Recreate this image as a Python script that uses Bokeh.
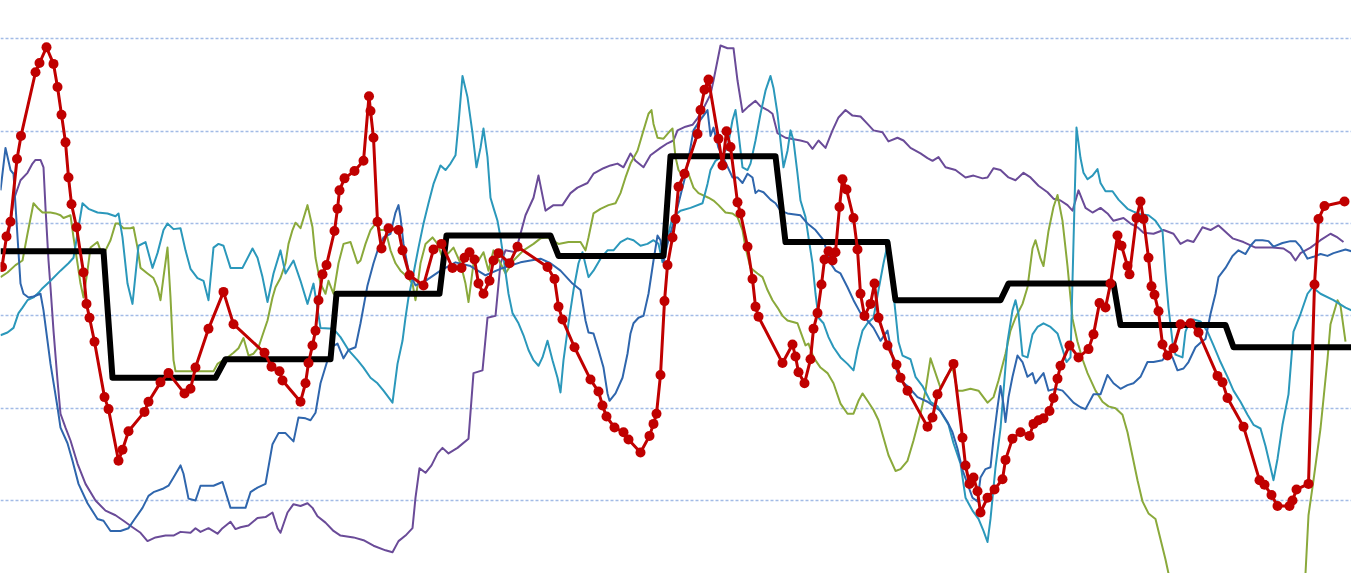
from bokeh.plotting import figure
from bokeh.models import Range1d, FixedTicker, Grid
from bokeh.embed import file_html
from bokeh.resources import INLINE

# ---- data (x = trading-day position, y = value) ----
grid_values = [0, 10, 20, 30, 40, 50]

month_start = [0, 22.4, 45, 67.2, 89.2, 111.6, 134, 157, 179, 201.6, 224, 246.6]
month_end = [20.6, 43, 66, 87.8, 110, 132.6, 155, 177.4, 200, 222.6, 245, 270.2]
month_avg = [27.0, 13.3, 15.3, 22.4, 28.7, 26.5, 37.3, 28.0, 21.7, 23.5, 19.0, 16.6]

red_points = [(0.3,25.3),(1.2,28.6),(2.0,30.2),(3.3,37.0),(4.1,39.5),(7.0,46.4),(7.8,47.4),(9.2,49.1),(10.6,47.3),(11.4,44.8),(12.2,41.8),(13.0,38.8),(13.6,35.0),(14.2,32.1),(15.2,29.6),(16.6,24.7),(17.2,21.3),(17.8,19.8),(18.8,17.2),(20.8,11.2),(21.6,9.9),(23.6,4.3),(24.4,5.5),(25.6,7.5),(28.8,9.6),(29.6,10.7),(32.0,12.8),(33.6,13.8),(36.8,11.6),(38.0,12.1),(39.0,14.4),(41.6,18.6),(44.6,22.6),(46.6,19.1),(52.8,16.0),(54.2,14.5),(55.8,14.0),(56.4,13.0),(60.0,10.7),(61.0,12.7),(61.6,14.9),(62.4,16.8),(63.0,18.4),(63.6,21.7),(64.4,24.5),(65.2,25.5),(66.8,29.2),(67.4,31.6),(67.8,33.6),(68.8,34.9),(70.8,35.7),(72.6,36.8),(73.7,43.8),(74.0,42.2),(74.6,39.3),(75.4,30.2),(76.2,27.3),(77.6,29.5),(79.6,29.3),(80.4,27.1),(81.8,24.4),(84.6,23.3),(86.6,27.2),(88.2,27.8),(90.4,25.2),(92.2,25.2),(92.8,26.3),(93.8,26.9),(94.8,26.1),(95.6,23.5),(96.6,22.4),(97.8,23.8),(98.6,26.0),(99.6,26.8),(101.8,25.7),(103.4,27.5),(109.4,25.3),(110.8,24.0),(111.6,21.0),(112.4,19.6),(114.8,16.6),(118.0,13.1),(119.6,11.8),(120.4,10.3),(121.2,9.1),(122.8,7.9),(124.6,7.4),(125.6,6.6),(128.0,5.2),(129.8,7.0),(130.6,8.3),(131.2,9.4),(132.0,13.6),(132.8,21.6),(133.4,25.5),(134.4,28.5),(135.0,30.5),(135.6,34.0),(136.8,35.4),(139.4,39.7),(140.0,42.3),(140.8,44.5),(141.6,45.6),(143.6,39.2),(144.4,36.3),(145.2,40.0),(146.0,38.3),(147.4,32.3),(148.0,31.1),(149.4,27.5),(150.4,24.0),(151.0,21.0),(151.6,19.9),(156.4,14.9),(158.4,16.9),(159.0,15.6),(159.6,13.9),(160.8,12.7),(162.0,15.3),(162.6,18.6),(163.4,20.3),(164.2,23.4),(164.8,26.1),(165.6,27.0),(166.4,26.0),(167.0,26.9),(167.8,31.8),(168.4,34.8),(169.2,33.7),(170.6,30.6),(171.4,27.2),(172.0,22.4),(172.8,20.0),(174.0,21.3),(174.8,23.5),(175.6,19.8),(177.4,16.8),(179.2,14.7),(180.0,13.3),(181.4,11.9),(185.4,8.0),(186.4,9.0),(187.4,11.5),(190.6,14.8),(192.4,6.8),(193.0,3.8),(193.8,1.8),(194.6,2.5),(195.4,1.0),(196.0,-1.3),(197.4,0.3),(198.8,1.2),(200.4,2.3),(201.0,4.4),(202.4,6.7),(204.0,7.4),(205.8,7.0),(206.6,8.3),(207.6,8.7),(208.6,8.9),(209.8,9.7),(210.6,11.1),(211.4,13.2),(212.0,14.6),(213.8,16.8),(215.6,15.5),(217.6,16.4),(218.6,18.0),(219.8,21.4),(221.0,20.9),(222.0,23.5),(223.4,28.7),(224.2,27.6),(225.4,25.4),(225.8,24.5),(227.2,30.6),(228.0,32.4),(228.6,30.5),(229.6,26.3),(230.2,23.2),(230.8,22.3),(231.6,20.5),(232.4,16.9),(233.4,15.7),(234.6,16.5),(236.0,19.1),(238.0,19.2),(239.6,18.2),(243.4,13.5),(244.4,12.8),(245.4,11.1),(248.6,8.0),(251.8,2.2),(252.8,1.7),(254.2,0.6),(255.4,-0.6),(257.8,-0.6),(258.4,0.0),(259.2,1.2),(261.6,1.8),(262.8,23.4),(263.6,30.5),(264.8,31.9),(268.8,32.4)]

blue_points = [(0,33.6),(1,38.2),(2,35.8),(2.6,35.4),(4,23.5),(4.6,22.4),(5.6,22.0),(6.6,22.1),(8,22.4),(8.6,20.6),(10,14.8),(11.4,10.1),(12,7.9),(13.4,6.2),(14.4,4.3),(15.6,1.8),(17.4,-0.3),(19.4,-2.0),(20.6,-2.2),(22,-3.3),(24,-3.3),(25.6,-3.0),(26.6,-2.2),(28.4,-0.8),(29.6,0.5),(30.6,0.9),(32.6,1.3),(33.6,1.6),(34.6,2.5),(36,3.8),(36.6,2.9),(37.6,0.2),(39,0),(40,1.6),(42.6,1.6),(44.4,2.0),(46,-0.8),(49,-0.8),(50,0.9),(51.4,1.4),(53,1.8),(54.4,6.1),(55.6,7.3),(57,7.3),(58.6,6.4),(59.6,9.0),(61,8.9),(62,8.7),(63,9.5),(64,12.7),(65.4,15.2),(66.4,16.7),(67.4,17.0),(68.6,15.4),(69.6,16.3),(71,16.6),(72,19.2),(73.4,23.3),(74.6,25.7),(75.6,27.4),(76.6,28.5),(78,28.9),(79,31.2),(79.6,32.0),(80,30.7),(80.6,27.8),(81.6,24.9),(83,23.3),(85,23.8),(88,24.9),(91,25.8),(94,25.4),(97,24.4),(100,25.1),(104,25.8),(108,26.2),(110,25.7),(112,24.9),(114.4,23.5),(116,22.8),(117,19.5),(117.6,18.2),(118.6,18.1),(119.6,16.3),(120.6,14.4),(121.4,11.6),(121.8,10.8),(123,11.6),(124.4,13.3),(125.4,15.9),(126,18.1),(126.6,19.2),(127.6,19.8),(128.6,20.0),(129.6,22.4),(130.6,26.0),(131.4,28.7),(132,28.2),(132.6,25.8),(133.4,27.8),(135,30.9),(137,35.2),(138.6,40.1),(139.4,40.8),(141.4,42.3),(142,39.5),(142.6,40.4),(143.6,38.2),(144.6,37.1),(146.4,35.0),(147.4,35.0),(148.4,34.4),(149.4,35.4),(150.4,35.0),(151,33.3),(151.6,33.6),(152.6,33.4),(154,32.6),(155,32.2),(156,31.4),(157.4,31.1),(160,30.9),(161.4,30.0),(163,29.3),(164.6,28.2),(166,25.7),(167,24.9),(168,24.6),(169.4,23.1),(170.6,21.7),(172,20.3),(173.4,19.5),(174.6,18.7),(176,17.3),(177.4,18.4),(178.6,15.0),(180,13.0),(181.4,12.4),(183.4,11.2),(185.4,10.7),(188,9.7),(189.4,8.5),(190.4,7.4),(191.4,5.6),(192.4,3.3),(193.4,1.8),(194.4,0.3),(195.4,-0.1),(196,2.5),(197,3.4),(198,3.6),(198.6,6.7),(199.4,10.1),(200,12.4),(200.6,10.4),(201,8.5),(201.6,11.2),(202.4,13.4),(203.4,15.7),(204.4,15.0),(205.4,13.4),(206.4,13.8),(207,12.7),(208,13.4),(208.6,13.8),(209.6,11.9),(211,12.1),(212.4,11.9),(213.6,11.2),(214.6,10.6),(216,10.1),(217,9.9),(218.6,11.5),(220,11.5),(221.4,13.6),(222.6,12.7),(224,12.1),(225.4,12.5),(226.6,12.7),(228,13.4),(229.4,15.0),(230.6,15.0),(232.4,15.2),(233.4,16.0),(234.4,15.5),(235.4,14.1),(236.6,14.3),(237.6,15.0),(239,16.6),(240,17.1),(241,17.5),(242,20.2),(243,22.4),(243.6,24.2),(245,25.2),(246.4,26.5),(247.6,27.1),(249,26.7),(250,27.6),(251,28.2),(252.4,28.2),(253.6,28.1),(254.6,27.5),(256.4,27.9),(258,28.1),(259,28.1),(260,27.5),(261.4,26.2),(262.6,26.4),(264,26.7),(265.4,26.5),(266.6,26.8),(269,27.2),(270.2,27.0)]

teal_points = [(0,17.9),(1.4,18.2),(2.6,18.7),(3.6,20.3),(4.4,20.9),(5.4,21.7),(6.6,22.0),(7.6,22.5),(8.4,23.0),(10,23.8),(12,24.9),(13.6,25.7),(14.6,26.3),(15.4,28.9),(16.4,32.2),(17.6,31.6),(19.4,31.2),(21.4,31.1),(23,30.8),(23.6,31.1),(24.4,28.5),(25.4,23.5),(26.4,21.3),(27.6,27.6),(29,28.0),(30.4,25.2),(31.4,26.8),(32.6,29.3),(33.4,30.0),(34.6,29.4),(36,29.5),(37,27.1),(38,25.1),(39.4,24.1),(40.6,23.8),(41.6,21.7),(42.6,27.4),(43.6,27.8),(44.6,27.6),(46,25.2),(48.4,25.2),(50.4,27.3),(51.4,26.3),(52.4,24.2),(53.4,21.5),(54.6,24.6),(56,27.1),(57,24.6),(58.6,26.0),(60,23.8),(61.4,21.3),(62.6,23.5),(64,18.7),(66.6,18.6),(68,17.7),(69.6,16.3),(71.4,15.2),(72.6,14.4),(74,13.3),(75.4,12.7),(76.6,11.9),(78.4,10.6),(79.4,14.8),(80.4,17.3),(81,19.8),(81.6,22.0),(82.6,24.6),(83.6,27.4),(84.6,30.0),(85.6,32.2),(86.6,34.3),(88,36.3),(89,35.8),(90,36.5),(91,37.4),(91.6,40.8),(92.4,46.0),(93.4,43.7),(94.4,39.8),(95.2,36.1),(96,38.2),(96.6,40.3),(97.4,37.2),(98,32.8),(98.6,31.7),(99.4,30.3),(100,28.5),(100.6,26.3),(101.6,22.4),(102.4,20.3),(103.6,19.2),(104.6,17.9),(105.6,16.3),(106.6,15.2),(107.6,14.6),(108.4,15.5),(109.4,17.3),(110.4,15.2),(111.4,13.3),(112,11.7),(112.6,15.2),(113.6,19.2),(114.6,22.8),(115.6,25.7),(116.4,26.9),(117.6,24.2),(118.6,24.9),(120,26.2),(121.4,27.1),(122.6,27.1),(124,28.0),(125.4,28.4),(126.6,28.2),(128,27.6),(129.4,27.8),(130.6,28.2),(131.6,27.8),(132.4,25.8),(133.4,28.5),(134.4,30.7),(136,31.4),(138,31.7),(140.4,32.2),(141.4,34.3),(142,35.8),(143,36.8),(144,37.2),(145.4,38.2),(146.4,41.2),(147,42.3),(147.6,39.8),(148.4,36.1),(149.4,35.8),(150,36.5),(151,39.0),(152,41.9),(153,44.4),(154,46.0),(154.6,44.7),(155.4,41.9),(156,39.0),(156.6,36.1),(157.4,37.9),(158,40.1),(158.6,39.0),(159.4,35.4),(160,32.5),(161,30.7),(161.6,28.5),(162.4,25.7),(163,22.4),(163.6,19.8),(164.6,19.2),(165.6,17.7),(166.6,16.6),(168,15.5),(169.4,14.8),(170.6,14.1),(171.4,16.3),(172.4,18.4),(173.4,19.2),(174.6,19.8),(175.6,22.8),(176.6,25.7),(177.6,28.2),(178.6,22.4),(179.6,17.2),(180.4,15.7),(182,15.3),(183,13.4),(184.4,12.4),(186,10.7),(187.4,10.2),(188.6,9.1),(189.6,8.2),(190.6,6.2),(192,4.0),(193,0.3),(194.4,-1.1),(195.6,-2.0),(196.6,-3.3),(197.4,-4.5),(198,-2.0),(199,3.6),(200,7.8),(201.4,17.2),(202.4,20.6),(203,21.7),(203.6,20.2),(204.4,15.7),(205.4,15.5),(206.4,18.0),(207.4,18.8),(208.6,19.2),(210,18.8),(211.4,18.1),(212.4,16.4),(213.2,15.0),(214,15.5),(215.2,40.4),(216,37.1),(216.6,35.5),(217.4,34.8),(218.4,35.2),(219.4,35.9),(220,34.4),(221,33.5),(222.4,33.5),(223.6,32.6),(225.4,31.6),(226.6,31.3),(228,31.0),(229.6,30.9),(231,30.3),(232.4,29.2),(233,24.7),(233.6,20.9),(234.4,17.2),(235,15.8),(236.4,15.5),(237,18.3),(237.6,19.1),(238.6,19.6),(240,19.4),(241.4,18.3),(242.6,16.8),(244,15.0),(245.4,13.4),(246.6,11.9),(248,10.7),(249.4,9.3),(250.6,8.2),(252,7.8),(253,5.9),(254,3.6),(254.6,2.2),(255.4,4.5),(256.4,8.2),(257.6,11.5),(258.6,18.3),(260,20.2),(261.4,22.4),(262.4,23.1),(264,22.4),(266.6,21.7),(269,20.9),(270.2,20.6)]

green_points = [(0,24.2),(1.4,24.7),(3,25.5),(4.4,26.0),(5.4,28.9),(6.6,32.2),(7.6,31.6),(8.4,31.2),(10,31.2),(11,31.1),(12,30.9),(12.6,30.6),(14,30.9),(14.6,28.5),(15.4,25.7),(16,23.5),(16.6,22.0),(17.4,24.9),(18,27.4),(19.4,28.0),(20,27.1),(21,27.1),(22,28.2),(23,30.0),(23.6,30.0),(24.6,29.5),(26,29.5),(26.6,29.6),(27.4,27.4),(28,25.2),(29.4,24.6),(30.6,24.1),(31.4,23.1),(32,21.7),(32.6,24.2),(33.4,27.4),(34,22.0),(34.6,15.2),(35,14.0),(42.6,14.0),(43.4,14.8),(45.4,15.5),(46.6,16.0),(47.6,16.5),(48.6,17.6),(49.6,15.7),(50.6,15.9),(51.6,16.6),(52.4,17.9),(53.4,19.5),(54.4,22.0),(55,23.1),(56,24.1),(57,25.7),(57.6,27.8),(58.4,29.3),(59,30.1),(60,29.5),(61.4,32.0),(62.4,29.6),(63,26.3),(64,23.5),(65,22.4),(65.6,23.8),(66.6,22.4),(67.6,25.7),(68.6,27.8),(70,28.0),(71.4,25.7),(72,26.0),(73,27.8),(74,29.3),(75,30.0),(76,29.3),(77,29.3),(78,27.1),(79,25.7),(80,24.9),(81.4,24.2),(82.4,23.5),(83,21.7),(84,25.7),(85,27.8),(86.4,28.5),(87.4,27.8),(88.4,26.3),(89.6,26.8),(90.6,27.4),(92,25.7),(93,23.5),(93.6,21.5),(94.6,25.7),(95.6,26.0),(96.6,26.9),(97.6,24.9),(98.6,27.1),(100,25.7),(101,24.6),(102.6,26.0),(104.6,27.1),(106.6,27.8),(108,28.4),(109.4,28.5),(111.6,27.8),(113.6,28.0),(116,28.0),(117,27.1),(117.6,28.5),(118.6,31.1),(120,31.6),(121.6,32.0),(123,32.2),(124,33.3),(125,35.0),(126,36.5),(127.4,37.9),(128.6,40.1),(129.6,41.9),(130.2,42.3),(130.6,40.8),(131.4,39.3),(132.6,39.2),(134,40.1),(134.4,40.3),(135,37.2),(135.6,35.8),(136.6,35.0),(137.6,35.4),(138.6,33.9),(139.6,33.3),(141.6,32.8),(142.6,32.5),(143.6,32.0),(145,31.2),(146.4,31.1),(147.4,30.7),(148.4,29.3),(149,27.4),(150,25.2),(151.4,24.6),(152.4,24.2),(153.4,22.8),(154.4,21.7),(155.4,20.9),(156.4,20.0),(157.4,19.5),(159.4,19.2),(160.4,17.7),(161,16.8),(161.6,17.0),(162.6,15.5),(164,14.4),(165.4,13.8),(166.6,12.7),(168,10.5),(169.4,9.4),(170.6,9.4),(171.6,10.8),(172.4,11.6),(173.4,10.8),(174.6,9.8),(175.6,8.7),(176.6,6.8),(177.6,4.9),(179,3.2),(180,3.4),(181.4,4.3),(182.6,6.5),(184,9.4),(185,11.9),(186,15.4),(187,13.8),(188,12.2),(189,13.3),(190.4,14.4),(191.4,11.9),(192.4,11.9),(194,12.1),(195.6,11.9),(197.4,10.6),(198.6,11.2),(199.6,13.0),(201,15.9),(202,18.4),(203,19.8),(204.4,21.3),(205.4,23.1),(206.4,27.3),(207,28.2),(208,26.2),(208.6,25.4),(209.6,29.2),(210.6,31.8),(211.4,33.1),(212.4,30.3),(213.4,25.4),(214.4,19.7),(215.4,17.2),(216.4,15.3),(217.4,13.8),(219,11.9),(220.4,10.7),(221.6,10.2),(223,10.0),(224.4,9.3),(225.4,7.4),(226.4,4.8),(227.4,2.2),(228.4,-0.1),(229.6,-1.4),(231,-2.0),(232,-4.2),(233,-6.4),(233.6,-7.9),(234.4,-10.5),(236,-14.0),(242,-18.0),(252,-19.0),(259,-17.0),(260.6,-12.0),(261,-7.9),(261.6,-1.6),(262.6,2.2),(264,7.8),(265.4,15.3),(266,19.1),(267.4,21.7),(268,21.1),(269,17.2)]

purple_points = [(1.6,28.7),(2.6,32.5),(4,34.7),(5.4,35.5),(6.4,36.5),(7,36.9),(8,36.9),(8.6,36.1),(9,31.7),(9.6,26.0),(10,23.1),(10.6,18.4),(11.4,13.0),(12,9.4),(13,7.9),(14,6.5),(15.4,4.0),(17,1.8),(19,0),(21,-1.1),(23,-1.6),(24.6,-2.2),(26.4,-2.9),(28,-3.5),(29.4,-4.4),(31,-4.0),(33,-3.8),(34.6,-3.8),(36,-3.4),(38,-3.5),(39,-3.0),(40,-3.4),(41.6,-3.0),(43.4,-3.6),(44.4,-3.0),(46,-2.3),(47,-3.1),(48,-2.9),(49.6,-2.7),(51.4,-1.9),(53,-1.8),(54.4,-1.3),(55.4,-3.0),(56,-3.5),(57.4,-1.3),(58.6,-0.4),(60,-0.6),(61.4,-0.3),(62.4,-0.8),(63.4,-1.7),(65,-2.4),(66.6,-3.3),(68,-3.8),(70.6,-4.0),(72.6,-4.3),(74.6,-4.9),(77,-5.4),(78.4,-5.6),(79.6,-4.4),(81,-3.8),(82.4,-3.0),(83,0.3),(83.8,3.5),(85,3.0),(86.2,3.8),(87.4,5.1),(88.4,5.7),(89.6,5.1),(91.4,5.7),(93.6,6.7),(94.6,13.8),(96.4,14.1),(97.4,19.8),(99,20.0),(100,25.7),(101,27.1),(103,26.9),(105,30.9),(106.6,32.8),(107.6,35.2),(109,31.4),(110.6,32.0),(112.4,32.0),(114,33.3),(115.4,33.9),(117.4,34.4),(118.6,35.4),(120.6,36.0),(122,36.3),(123.4,36.5),(124.6,36.1),(126,37.6),(127,36.8),(128.6,36.1),(130,37.4),(132,38.2),(133.4,38.7),(134.6,39.0),(135.4,40.1),(137,40.5),(138.4,40.7),(139.4,41.4),(140.6,42.5),(142,44.0),(142.6,45.5),(144,49.3),(145.4,49.0),(146.6,49.0),(147.4,45.5),(148.4,42.1),(149.6,42.7),(151,43.3),(152,42.7),(153.4,42.3),(154.4,41.9),(155.4,39.8),(157,39.3),(160,39.0),(161.4,38.8),(162.4,38.1),(163.6,39.0),(165,38.2),(166.4,40.1),(167.6,41.5),(169,42.3),(170.4,41.7),(172,41.6),(173.4,40.8),(174.6,40.1),(176.4,39.9),(177.6,38.9),(179.4,39.3),(180.6,39.0),(182,38.2),(184,37.6),(185.4,37.1),(186.4,36.8),(187.6,37.2),(189,36.1),(191,35.8),(193,35.0),(194.6,35.2),(196.4,34.9),(197.4,35.0),(198.6,36.0),(200,35.8),(201.6,35.0),(203,34.7),(204.6,35.5),(206,35.0),(207.6,34.1),(209.4,33.4),(210.6,32.7),(212,32.5),(213.4,32.0),(214.4,31.4),(215.6,33.6),(217,31.7),(218.4,31.2),(220,31.7),(221.4,31.1),(222.6,30.3),(224.6,30.6),(226,30.0),(227.4,29.6),(228.6,29.0),(230.6,28.9),(232.6,29.3),(234.6,28.9),(236,27.8),(237.4,28.2),(238.6,28.0),(240.4,29.6),(242,29.3),(243.6,29.8),(244.6,29.3),(246.4,28.4),(248.6,28.0),(251,27.4),(254.4,27.4),(256.6,27.3),(258,26.8),(259,26.0),(260,26.8),(262,27.4),(264,28.2),(266,28.9),(267.4,28.5),(268.6,28.0)]

# ---- figure ----
p = figure(width=1351, height=573, output_backend="svg", toolbar_location=None,
           x_range=Range1d(0, 270.2), y_range=Range1d(-7.91, 54.17),
           x_axis_location=None, y_axis_location=None,
           min_border=0, background_fill_color="white", border_fill_color="white")
p.outline_line_color = None
p.renderers = []
p.center = []
p.add_layout(Grid(dimension=1, ticker=FixedTicker(ticks=grid_values),
                  grid_line_color="#a2bbe6", grid_line_width=1.5, grid_line_dash="3 2"))

def split(points):
    return [a for a, b in points], [b for a, b in points]

for pts, col in [(purple_points, "#6a4b98"), (green_points, "#8aa93b"),
                 (teal_points, "#2b98bb"), (blue_points, "#2f66ad")]:
    xs, ys = split(pts)
    p.line(xs, ys, line_color=col, line_width=2, line_join="round")

bx, by = [], []
for s, e, v in zip(month_start, month_end, month_avg):
    bx += [s, e]
    by += [v, v]
p.line(bx, by, line_color="black", line_width=6, line_join="round")

rx, ry = split(red_points)
p.line(rx, ry, line_color="#c00000", line_width=3, line_join="round")
p.scatter(rx, ry, size=10, fill_color="#c00000", line_color=None)

open("out.html", "w").write(file_html(p, INLINE))
